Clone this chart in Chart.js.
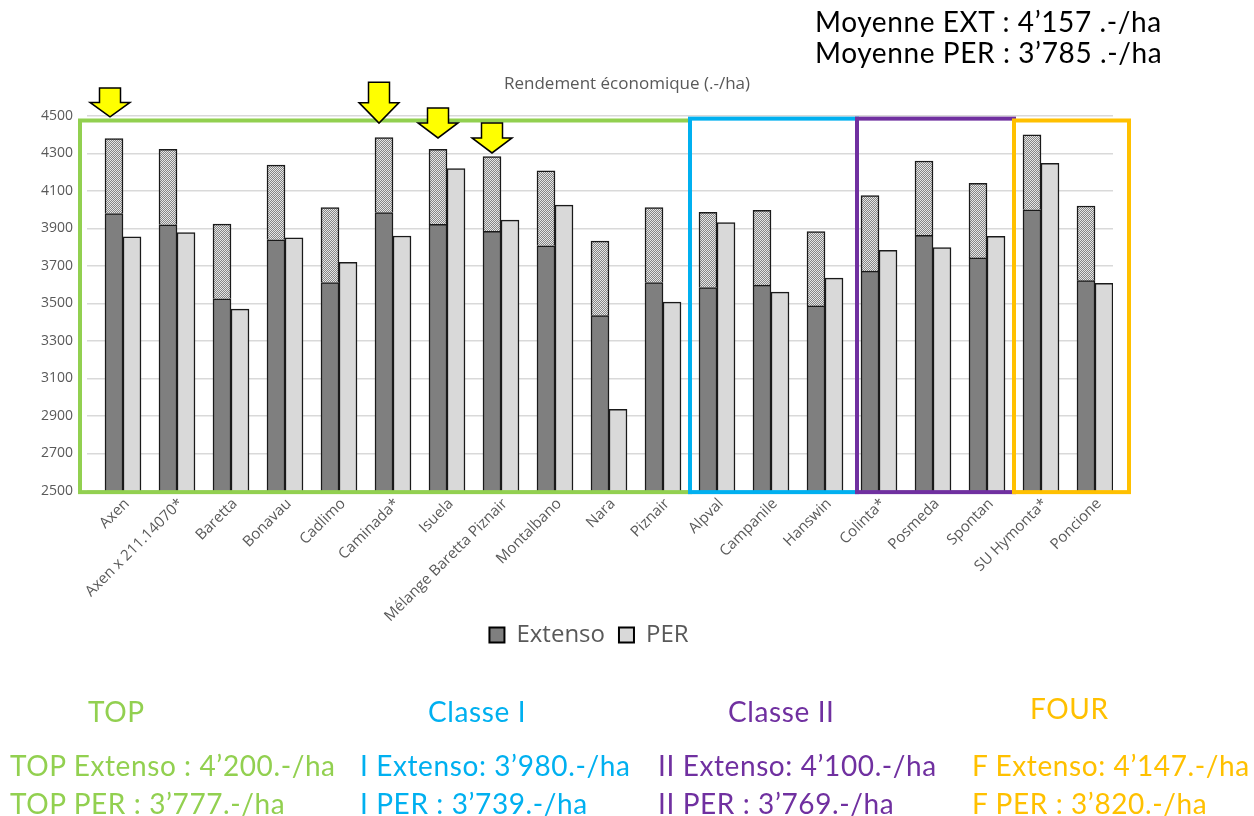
<!DOCTYPE html>
<html>
<head>
<meta charset="utf-8">
<script src="https://cdn.jsdelivr.net/npm/chart.js@4.4.1/dist/chart.umd.min.js"></script>
<style>
    html, body { margin: 0; padding: 0; background: #fff; }
    #wrap { position: relative; width: 1254px; height: 816px; overflow: hidden; }
    #chart { position: absolute; left: 0; top: 0; }
    .t { position: absolute; white-space: nowrap; line-height: 1; font-family: Lato, sans-serif; font-size: 28px; letter-spacing: 0.6px; }
    .top { color: #92d050; }
    .c1 { color: #00b0f0; }
    .c2 { color: #7030a0; }
    .four { color: #ffc000; }
</style>
</head>
<body>
<div id="wrap">
    <canvas id="chart" width="1254" height="816"></canvas>

    <div class="t" style="left:815px; top:7px; color:#000;">Moyenne EXT : 4’157 .-/ha</div>
    <div class="t" style="left:815px; top:38px; color:#000;">Moyenne PER : 3’785 .-/ha</div>

    <div class="t top" style="left:88px; top:697px;">TOP</div>
    <div class="t c1" style="left:428px; top:697px;">Classe I</div>
    <div class="t c2" style="left:728px; top:697px;">Classe II</div>
    <div class="t four" style="left:1030px; top:694px;">FOUR</div>

    <div class="t top" style="left:10px; top:751px;">TOP Extenso : 4’200.-/ha</div>
    <div class="t c1" style="left:360px; top:751px;">I Extenso: 3’980.-/ha</div>
    <div class="t c2" style="left:658px; top:751px;">II Extenso: 4’100.-/ha</div>
    <div class="t four" style="left:972px; top:751px;">F Extenso: 4’147.-/ha</div>

    <div class="t top" style="left:10px; top:789px;">TOP PER : 3’777.-/ha</div>
    <div class="t c1" style="left:360px; top:789px;">I PER : 3’739.-/ha</div>
    <div class="t c2" style="left:658px; top:789px;">II PER : 3’769.-/ha</div>
    <div class="t four" style="left:972px; top:789px;">F PER : 3’820.-/ha</div>
</div>

<script>
const varieties = ['Axen', 'Axen x 211.14070*', 'Baretta', 'Bonavau', 'Cadlimo', 'Caminada*', 'Isuela',
    'Mélange Baretta Piznair', 'Montalbano', 'Nara', 'Piznair', 'Alpval', 'Campanile', 'Hanswin',
    'Colinta*', 'Posmeda', 'Spontan', 'SU Hymonta*', 'Poncione'];

// Extenso: solid part + dotted part stacked on top
const extensoBase = [3980, 3920, 3525, 3840, 3612, 3985, 3922, 3885, 3808, 3435, 3612,
    3585, 3598, 3487, 3673, 3863, 3743, 4000, 3622];
const extensoTop = [400, 402, 398, 398, 399, 400, 400, 398, 399, 398, 399,
    401, 399, 396, 402, 397, 398, 400, 398];
const perValues = [3855, 3878, 3470, 3850, 3720, 3860, 4220, 3945, 4025, 2935, 3507,
    3932, 3561, 3635, 3784, 3798, 3858, 4248, 3608];

const yMin = 2500;
const yMax = 4500;
const yStep = 200;

// coloured frames around the variety classes (pads in px from first/last category centre)
const groups = [
    { from: 0, to: 10, color: '#92d050', top: 4476, padL: 34, padR: 36 },
    { from: 11, to: 13, color: '#00b0f0', top: 4486, padL: 18, padR: 41 },
    { from: 14, to: 16, color: '#7030a0', top: 4486, padL: 13, padR: 36 },
    { from: 17, to: 18, color: '#ffc000', top: 4476, padL: 18, padR: 43 }
];

// yellow arrows above the recommended varieties
const arrows = [
    { index: 0, tip: 4495, len: 29, dx: -4 },
    { index: 5, tip: 4462, len: 41, dx: -5 },
    { index: 6, tip: 4383, len: 30, dx: 0 },
    { index: 7, tip: 4303, len: 30, dx: 0 }
];

function dotPattern() {
    const c = document.createElement('canvas');
    c.width = 2;
    c.height = 2;
    const g = c.getContext('2d');
    g.fillStyle = '#868686';
    g.fillRect(0, 0, 2, 2);
    g.fillStyle = '#e6e6e6';
    g.fillRect(0, 0, 1, 1);
    g.fillRect(1, 1, 1, 1);
    return g.createPattern(c, 'repeat');
}

function drawArrow(ctx, x, tipY, len) {
    const hw = 20, sw = 10.5, head = len / 2;
    ctx.beginPath();
    ctx.moveTo(x - sw, tipY - len);
    ctx.lineTo(x + sw, tipY - len);
    ctx.lineTo(x + sw, tipY - head);
    ctx.lineTo(x + hw, tipY - head);
    ctx.lineTo(x, tipY);
    ctx.lineTo(x - hw, tipY - head);
    ctx.lineTo(x - sw, tipY - head);
    ctx.closePath();
    ctx.fillStyle = '#ffff00';
    ctx.fill();
    ctx.strokeStyle = '#000';
    ctx.lineWidth = 1.5;
    ctx.stroke();
}

const framesAndArrows = {
    id: 'framesAndArrows',
    afterLayout(chart) {
        // long rotated labels hang below the axis box; let them show
        chart.scales.x.bottom += 30;
        // legend sits slightly left of the plot centre in the original
        chart.legend.left -= 11;
        chart.legend.right -= 11;
    },
    afterDatasetsDraw(chart) {
        const { ctx, scales: { x, y } } = chart;
        ctx.save();
        ctx.lineWidth = 4;
        groups.forEach(g => {
            const left = x.getPixelForValue(g.from) - g.padL;
            const right = x.getPixelForValue(g.to) + g.padR;
            const top = y.getPixelForValue(g.top);
            const bottom = y.getPixelForValue(2494);
            ctx.strokeStyle = g.color;
            ctx.strokeRect(left, top, right - left, bottom - top);
        });
        const extMeta = chart.getDatasetMeta(1);
        arrows.forEach(a => {
            const bar = extMeta.data[a.index];
            drawArrow(ctx, bar.x + a.dx, y.getPixelForValue(a.tip), a.len);
        });
        ctx.restore();
    }
};

const edge = '#1a1a1a';

new Chart(document.getElementById('chart'), {
    type: 'bar',
    data: {
        labels: varieties,
        datasets: [
            // empty slot: keeps the Extenso bar centred on its category like the original
            { label: 'gap', data: [], stack: 'gap' },
            { label: 'Extenso', data: extensoBase, stack: 'ext', backgroundColor: '#7f7f7f', borderColor: edge, borderWidth: 1.5 },
            { label: 'Extenso+', data: extensoTop, stack: 'ext', backgroundColor: dotPattern(), borderColor: edge, borderWidth: 1.5 },
            { label: 'PER', data: perValues, stack: 'per', backgroundColor: '#d9d9d9', borderColor: edge, borderWidth: 1.5 }
        ]
    },
    options: {
        responsive: false,
        animation: false,
        datasets: {
            bar: { categoryPercentage: 1, barPercentage: 1 }
        },
        layout: {
            padding: { left: 0, right: 0, top: 0, bottom: 159 }
        },
        scales: {
            x: {
                stacked: true,
                grid: { display: false },
                border: { display: false },
                ticks: {
                    color: '#595959',
                    font: { family: 'Open Sans', size: 15 },
                    maxRotation: 45,
                    minRotation: 45,
                    autoSkip: false,
                    padding: -4,
                    labelOffset: 13
                },
                afterFit(scale) { scale.height = 118; }
            },
            y: {
                stacked: true,
                min: yMin,
                max: yMax,
                grid: { color: '#d9d9d9', lineWidth: 1.5, drawTicks: false },
                border: { display: false },
                ticks: {
                    stepSize: yStep,
                    color: '#595959',
                    font: { family: 'Open Sans', size: 14 },
                    padding: 14,
                    callback: v => String(v)
                },
                afterFit(scale) { scale.width = 87; }
            },
            // empty right margin, keeps the title centred on the whole picture
            side: {
                position: 'right',
                display: true,
                grid: { display: false },
                border: { display: false },
                ticks: { display: false },
                afterFit(scale) { scale.width = 141; }
            }
        },
        plugins: {
            title: {
                display: true,
                text: 'Rendement économique (.-/ha)',
                color: '#595959',
                font: { family: 'Open Sans', size: 17, weight: 'normal' },
                padding: { top: 74, bottom: 21.6 }
            },
            legend: {
                position: 'bottom',
                fullSize: false,
                labels: {
                    generateLabels(chart) {
                        return Chart.defaults.plugins.legend.labels.generateLabels(chart)
                            .filter(item => item.text === 'Extenso' || item.text === 'PER')
                            .map(item => Object.assign(item, { lineWidth: 2, strokeStyle: '#000' }));
                    },
                    boxWidth: 15,
                    boxHeight: 15,
                    padding: 14,
                    color: '#595959',
                    font: { family: 'Open Sans', size: 24 }
                }
            },
            tooltip: { enabled: false }
        }
    },
    plugins: [framesAndArrows]
});
</script>
</body>
</html>
